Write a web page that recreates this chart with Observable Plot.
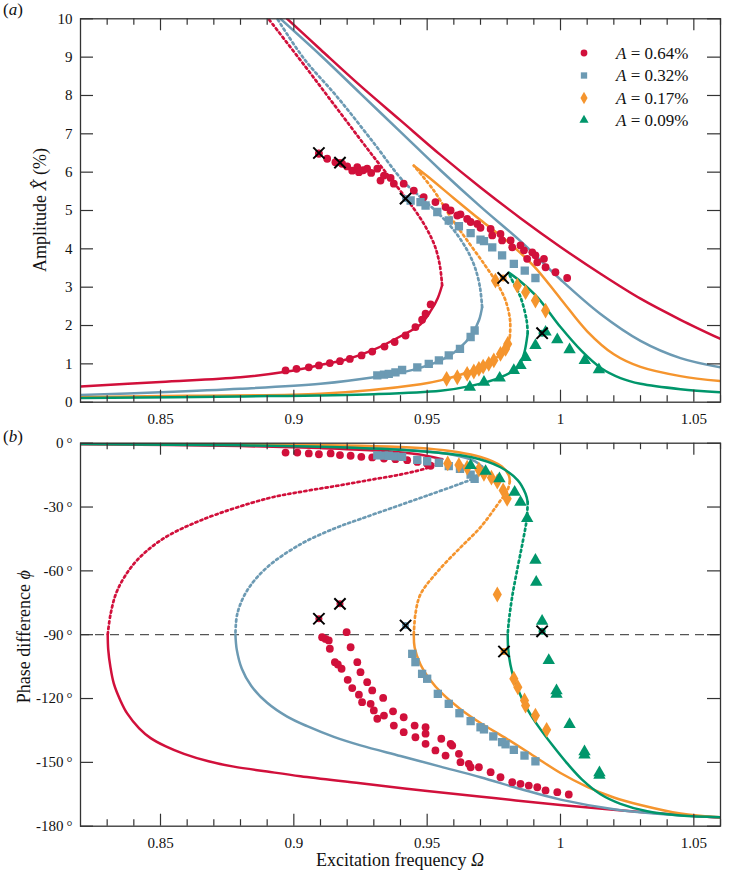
<!DOCTYPE html>
<html><head><meta charset="utf-8">
<script src="https://cdn.jsdelivr.net/npm/d3@7"></script>
<script src="https://cdn.jsdelivr.net/npm/@observablehq/plot@0.6"></script>
<style>
body{margin:0;background:#fff;}
#fig{position:relative;width:736px;height:872px;font-family:"Liberation Serif","Times New Roman",serif;}
#fig svg{position:absolute;left:0;}
#fig svg text, #fig svg tspan{font-family:"Liberation Serif","Times New Roman",serif !important;}
</style></head><body><div id="fig"></div>
<script>
// ---------- colours ----------
const colRed = "#d1103b", colBlue = "#6c9ab3", colOrange = "#f5952e", colGreen = "#00966b";
const frameCol = "#333333";

// ---------- ticks ----------
const xMajor = [0.85, 0.9, 0.95, 1, 1.05];
const xMinor = [0.83,0.84,0.86,0.87,0.88,0.89,0.91,0.92,0.93,0.94,0.96,0.97,0.98,0.99,1.01,1.02,1.03,1.04,1.06];
const ampTicks = [0,1,2,3,4,5,6,7,8,9,10];
const phaseTicks = [0,-30,-60,-90,-120,-150,-180];
const legendLabels = ["0.64%", "0.32%", "0.17%", "0.09%"];

// ---------- panel (a): theory curves [frequency, amplitude %] ----------
const redAmpLow = [[0.82,0.41],[0.85,0.53],[0.88,0.65],[0.8975,0.8],[0.91,0.97],[0.92,1.12],[0.93,1.37],[0.94,1.72],[0.9475,2.03],[0.9515,2.4],[0.954,2.72],[0.9556,3.05]];
const redAmpUnst = [[0.9556,3.05],[0.9548,3.55],[0.953,4.05],[0.95,4.5],[0.946,4.95],[0.9412,5.4],[0.9288,6.5],[0.9163,7.65],[0.9038,8.8],[0.8905,10]];
const redAmpUp = [[0.8975,10],[0.91,9.2],[0.925,8.25],[0.94,7.35],[0.955,6.45],[0.97,5.6],[0.985,4.8],[1.0,4.05],[1.015,3.35],[1.03,2.7],[1.045,2.15],[1.06,1.65]];

const blueAmpLow = [[0.82,0.19],[0.85,0.26],[0.88,0.35],[0.91,0.48],[0.93,0.65],[0.945,0.85],[0.955,1.09],[0.962,1.4],[0.967,1.8],[0.9695,2.15],[0.9706,2.48]];
const blueAmpUnst = [[0.9706,2.48],[0.9698,3.0],[0.968,3.5],[0.9655,3.9],[0.962,4.3],[0.958,4.65],[0.953,5.0],[0.9475,5.35],[0.9412,5.75],[0.929,6.85],[0.9163,7.96],[0.9038,8.96],[0.8938,10]];
const blueAmpUp = [[0.895,10],[0.91,9.05],[0.925,8.05],[0.94,7.05],[0.955,6.05],[0.97,5.1],[0.985,4.2],[1.0,3.2],[1.015,2.3],[1.03,1.6],[1.045,1.15],[1.06,0.91]];

const orangeAmpLow = [[0.82,0.13],[0.86,0.17],[0.91,0.22],[0.9475,0.47],[0.955,0.57],[0.966,0.8],[0.974,1.07],[0.979,1.35],[0.9806,1.6],[0.981,1.7]];
const orangeAmpUnst = [[0.981,1.7],[0.9811,2.13],[0.9794,2.65],[0.9763,3.09],[0.9713,3.61],[0.965,4.22],[0.9588,4.83],[0.9525,5.52],[0.945,6.17]];
const orangeAmpUp = [[0.945,6.17],[0.95,5.9],[0.96,5.32],[0.97,4.75],[0.98,4.2],[0.99,3.55],[1.0,2.7],[1.01,1.85],[1.02,1.25],[1.03,0.92],[1.045,0.68],[1.06,0.55]];

const greenAmpLow = [[0.82,0.11],[0.88,0.15],[0.93,0.21],[0.955,0.3],[0.966,0.42],[0.9775,0.65],[0.984,0.91],[0.9863,1.26],[0.9875,1.7],[0.9877,1.8]];
const greenAmpUnst = [[0.9877,1.8],[0.9873,2.13],[0.985,2.74],[0.9813,3.26],[0.9806,3.38]];
const greenAmpUp = [[0.9806,3.38],[0.985,3.15],[0.9913,2.74],[1.0,1.96],[1.008,1.33],[1.015,0.9],[1.0225,0.63],[1.03,0.48],[1.045,0.34],[1.06,0.26]];

// ---------- panel (a): measurements ----------
const redAmpPts = [[0.8969,0.83],[0.901,0.87],[0.9056,0.91],[0.9094,0.96],[0.9135,1.02],[0.9173,1.07],[0.921,1.13],[0.9254,1.22],[0.9294,1.32],[0.934,1.45],[0.9378,1.57],[0.9419,1.74],[0.9456,1.96],[0.9481,2.15],[0.9494,2.31],[0.9513,2.55],
 [0.9094,6.48],[0.9125,6.35],[0.9156,6.26],[0.9181,6.22],[0.92,6.15],[0.9219,6.04],[0.9238,6.13],[0.9244,6.0],[0.926,6.05],[0.9275,6.09],[0.929,5.98],[0.9313,6.09],[0.9325,5.78],[0.9338,5.91],[0.9363,5.85],[0.9375,5.7],[0.9412,5.70],[0.945,5.52],[0.9487,5.35],[0.9531,5.22],[0.9569,5.09],[0.9588,5.0],[0.9613,4.87],[0.9625,4.9],[0.965,4.78],[0.9663,4.70],[0.9688,4.65],[0.97,4.55],[0.9738,4.52],[0.9744,4.35],[0.9775,4.39],[0.9781,4.22],[0.9813,4.22],[0.9819,4.04],[0.985,4.09],[0.9863,3.96],[0.9875,3.74],[0.9894,3.91],[0.9906,3.83],[0.9913,3.65],[0.9938,3.74],[0.9944,3.52],[0.9981,3.39],[1.0025,3.24]];
const blueAmpPts = [[0.9313,0.70],[0.9338,0.72],[0.9356,0.74],[0.9381,0.78],[0.9406,0.84],[0.9463,0.91],[0.9506,1.0],[0.9544,1.09],[0.9581,1.22],[0.9623,1.39],[0.9663,1.70],[0.9678,1.87],
 [0.9438,5.26],[0.9475,5.22],[0.9494,5.13],[0.9538,4.96],[0.9581,4.74],[0.9619,4.59],[0.9663,4.41],[0.97,4.24],[0.9713,4.2],[0.9744,4.04],[0.9781,3.83],[0.9825,3.61],[0.9866,3.43],[0.9906,3.24]];
const orangeAmpPts = [[0.9573,0.61],[0.9613,0.65],[0.965,0.74],[0.9675,0.8],[0.9694,0.87],[0.971,0.93],[0.9731,1.0],[0.975,1.09],[0.9775,1.26],[0.9794,1.39],[0.9802,1.52],
 [0.9756,3.17],[0.9838,3.04],[0.9869,2.87],[0.9906,2.65],[0.9944,2.39]];
const greenAmpPts = [[0.966,0.39],[0.9713,0.52],[0.9772,0.63],[0.9825,0.83],[0.985,0.96],[0.9869,1.17],
 [0.9906,1.48],[0.9944,1.83],[0.9988,1.63],[1.0034,1.37],[1.0091,1.09],[1.0144,0.85]];
const crossAmp = [[0.9094,6.5,"red"],[0.9173,6.25,"red"],[0.9419,5.31,"blue"],[0.9785,3.24,"orange"],[0.9931,1.80,"green"]];

// ---------- panel (b): theory curves [frequency, phase deg] ----------
const redPhTop = [[0.82,-0.5],[0.88,-1.3],[0.91,-2.3],[0.93,-3.4],[0.945,-5],[0.9556,-7.5]];
const redPhUnst = [[0.9556,-7.5],[0.9513,-11],[0.9412,-14.4],[0.9288,-17.2],[0.9163,-20],[0.9038,-22.6],[0.89,-26],[0.865,-36.3],[0.85,-45.7],[0.84,-56.7],[0.8338,-69.2],[0.8313,-80.2],[0.8302,-90]];
const redPhBot = [[0.8302,-90],[0.8304,-97],[0.8312,-105],[0.8325,-113],[0.835,-121],[0.8375,-127],[0.842,-134],[0.8463,-138.6],[0.852,-142.5],[0.8588,-146],[0.868,-149.5],[0.8775,-152],[0.89,-154.3],[0.9025,-156.5],[0.925,-159.8],[0.95,-163.5],[0.975,-166.8],[1.0,-170],[1.03,-173.3],[1.06,-176]];

const bluePhTop = [[0.82,-0.3],[0.9,-1],[0.94,-2.8],[0.96,-5.5],[0.968,-8.5],[0.9706,-11]];
const bluePhUnst = [[0.9706,-11],[0.9695,-14],[0.967,-16.7],[0.9625,-19],[0.95,-24.6],[0.9375,-30.1],[0.925,-35.6],[0.915,-40.2],[0.9025,-47.5],[0.89,-58.3],[0.8825,-69.2],[0.8788,-80.2],[0.8781,-90]];
const bluePhBot = [[0.8781,-90],[0.8786,-97],[0.8805,-106],[0.884,-114],[0.89,-122],[0.8975,-128.5],[0.905,-133],[0.915,-138],[0.925,-142],[0.94,-147],[0.955,-152],[0.97,-157],[0.985,-162.5],[1.0,-167.5],[1.02,-172],[1.04,-174.5],[1.06,-175.8]];

const orangePhTop = [[0.82,-0.2],[0.9,-0.7],[0.95,-2.5],[0.97,-6.5],[0.978,-11],[0.9806,-15],[0.981,-18]];
const orangePhUnst = [[0.981,-18],[0.98,-22.5],[0.9775,-26.9],[0.97,-39.5],[0.9625,-49],[0.9538,-60.5],[0.9475,-71],[0.9456,-80.2],[0.945,-90]];
const orangePhBot = [[0.945,-90],[0.9453,-96],[0.9475,-104],[0.951,-111],[0.9555,-117.5],[0.9625,-125],[0.97,-131.5],[0.98,-139],[0.99,-147],[1.0,-155],[1.01,-161.5],[1.02,-166.5],[1.03,-170],[1.045,-174],[1.06,-175.8]];

const greenPhTop = [[0.82,-0.4],[0.88,-1],[0.92,-2],[0.9475,-3.8],[0.9663,-6.5],[0.9775,-11.3],[0.984,-17.5],[0.9869,-23.8],[0.9877,-27.7]];
const greenPhUnst = [[0.9877,-27.7],[0.9873,-36],[0.9859,-46],[0.984,-58],[0.9819,-72],[0.9806,-84],[0.9802,-90]];
const greenPhBot = [[0.9802,-90],[0.9804,-97],[0.9812,-104],[0.9825,-110.5],[0.9845,-117],[0.9865,-122.5],[0.989,-128],[0.9925,-134.5],[0.997,-142],[1.0025,-150.5],[1.008,-158],[1.015,-165],[1.0225,-169.5],[1.0325,-173],[1.045,-175],[1.06,-175.8]];

// ---------- panel (b): measurements ----------
const redPhPts = [[0.8969,-4.4],[0.9013,-4.4],[0.9056,-4.8],[0.9094,-5.2],[0.9138,-4.8],[0.9173,-5.6],[0.9213,-5.9],[0.9253,-6.4],[0.9294,-6.7],[0.9338,-7.2],[0.9381,-7.5],[0.9425,-8.0],[0.9463,-8.8],[0.95,-9.7],[0.9513,-10.6],
 [0.9106,-91.2],[0.9119,-92],[0.9131,-92.7],[0.9135,-96.6],[0.9154,-102.9],[0.9165,-104],[0.9179,-106],[0.9202,-111.2],[0.9219,-115.1],[0.9244,-118.2],[0.9256,-121.7],[0.9288,-122.5],[0.93,-125.6],[0.9313,-129.5],[0.9338,-128],[0.9375,-132.7],[0.9412,-135.8],[0.9456,-138.2],[0.9494,-141.3],[0.9531,-144.4],[0.9569,-146.8],[0.9594,-142.1],[0.9619,-146],[0.9656,-150.7],
 [0.9198,-88.8],[0.9213,-95.9],[0.9238,-102.9],[0.925,-107.6],[0.9275,-112.3],[0.9294,-116.2],[0.9335,-119.7],[0.9372,-126],[0.9412,-128.8],[0.9453,-132.7],[0.9494,-133.5],[0.9494,-136.5],[0.9553,-138.9],[0.9588,-141.3],[0.9625,-149.9],[0.9663,-152.3],[0.9694,-152.3],[0.9738,-154.6],[0.9775,-157],[0.9819,-159.3],[0.985,-160.1],[0.9881,-160.9],[0.9913,-161.7],[0.9944,-163.2],[0.9988,-164],[1.0031,-165.1]];
const bluePhPts = [[0.9313,-5.7],[0.9338,-5.8],[0.9356,-5.9],[0.938,-6.2],[0.9406,-6.4],[0.9463,-7.8],[0.95,-8.5],[0.9544,-9.2],[0.9581,-10.8],[0.9623,-12],[0.9663,-14.8],[0.9678,-16.7],
 [0.9444,-99],[0.9456,-102.9],[0.9481,-108.4],[0.95,-110.7],[0.954,-117.8],[0.9581,-122.5],[0.9621,-126.9],[0.9663,-130.6],[0.97,-133.5],[0.9713,-134.5],[0.9748,-137.8],[0.9781,-140.5],[0.9794,-141.5],[0.9825,-144.1],[0.9865,-146.8],[0.9906,-149.5]];
const orangePhPts = [[0.9577,-9.5],[0.9619,-10.3],[0.965,-11.5],[0.9694,-12.4],[0.9713,-14.4],[0.9741,-16.2],[0.9763,-18],[0.9785,-22.2],[0.98,-26.1],
 [0.9763,-71.1],
 [0.9825,-110.7],[0.984,-114.7],[0.9865,-120.9],[0.9869,-123.3],[0.9906,-128],[0.9948,-134.7]];
const greenPhPts = [[0.9663,-10.5],[0.9719,-13.2],[0.9771,-16.7],[0.9828,-23],[0.985,-27.7],[0.9875,-35.3],[0.9906,-55],[0.9909,-65.3],[0.9931,-83.6],
 [0.9956,-102.1],[0.9985,-116.3],[0.9985,-118],[1.0034,-132.2],[1.009,-145],[1.009,-146.5],[1.0146,-154.8],[1.0146,-156]];
const crossPh = [[0.9094,-82.5,"red"],[0.9173,-75.5,"red"],[0.9419,-85.7,"blue"],[0.9788,-97.9,"orange"],[0.9931,-88.4,"green"]];

// ---------- helpers ----------
const FONT = '"Liberation Serif","Times New Roman",serif';
const colorOf = {red: colRed, blue: colBlue, orange: colOrange, green: colGreen};
const W = 736, ML = 80, MR = 16;
function line(data, color, dotted) {
  return Plot.line(data, {x: d => d[0], y: d => d[1], stroke: color, strokeWidth: dotted ? 2.7 : 2.5,
    strokeDasharray: dotted ? "2.2,3.2" : null, curve: "catmull-rom", clip: true});
}
function pts(data, color, symbol, r) {
  return Plot.dot(data, {x: d => d[0], y: d => d[1], fill: color, symbol, r, clip: true});
}
function frameTicks(plotH, plotW, yTicks) {
  return [
    Plot.tickX(xMajor, {x: d => d, insetTop: plotH - 12, stroke: frameCol, strokeWidth: 1.2}),
    Plot.tickX(xMinor, {x: d => d, insetTop: plotH - 6.5, stroke: frameCol, strokeWidth: 1.2}),
    Plot.tickX(xMajor, {x: d => d, insetBottom: plotH - 12, stroke: frameCol, strokeWidth: 1.2}),
    Plot.tickX(xMinor, {x: d => d, insetBottom: plotH - 6.5, stroke: frameCol, strokeWidth: 1.2}),
    Plot.tickY(yTicks, {y: d => d, insetRight: plotW - 13, stroke: frameCol, strokeWidth: 1.2}),
    Plot.tickY(yTicks, {y: d => d, insetLeft: plotW - 13, stroke: frameCol, strokeWidth: 1.2}),
    Plot.frame({stroke: frameCol, strokeWidth: 1.3})
  ];
}
const styleObj = {fontFamily: FONT, fontSize: "15px", color: "#111", background: "transparent", overflow: "visible"};
function axes(yTicks, yFmt) {
  return [
    Plot.axisX({ticks: xMajor, tickSize: 0, tickPadding: 11, tickFormat: d => String(d), label: null, fontFamily: FONT, fontSize: 15, fill: "#111"}),
    Plot.axisY({ticks: yTicks, tickSize: 0, tickPadding: 8, tickFormat: yFmt, label: null, fontFamily: FONT, fontSize: 15, fill: "#111"})
  ];
}

// ---------- panel (a) ----------
const AH = 430, AMT = 18.3, AMB = 28.3;
const plotA = Plot.plot({
  width: W, height: AH, marginLeft: ML, marginRight: MR, marginTop: AMT, marginBottom: AMB,
  style: styleObj,
  x: {domain: [0.82, 1.06]},
  y: {domain: [0, 10]},
  marks: [
    line(redAmpLow, colRed), line(redAmpUnst, colRed, true), line(redAmpUp, colRed),
    line(blueAmpLow, colBlue), line(blueAmpUnst, colBlue, true), line(blueAmpUp, colBlue),
    line(orangeAmpLow, colOrange), line(orangeAmpUnst, colOrange, true), line(orangeAmpUp, colOrange),
    line(greenAmpLow, colGreen), line(greenAmpUnst, colGreen, true), line(greenAmpUp, colGreen),
    pts(redAmpPts, colRed, "circle", 3.9),
    pts(blueAmpPts, colBlue, "square", 4.7),
    pts(orangeAmpPts, colOrange, "diamond", 4.8),
    pts(greenAmpPts, colGreen, "triangle", 4.6),
    Plot.dot(crossAmp, {x: d => d[0], y: d => d[1], fill: d => colorOf[d[2]], r: 3.5}),
    Plot.dot(crossAmp, {x: d => d[0], y: d => d[1], symbol: "times", stroke: "#000", strokeWidth: 2, r: 5.2}),
    ...frameTicks(AH - AMT - AMB, W - ML - MR, ampTicks),
    ...axes(ampTicks, d => String(d))
  ]
});
plotA.style.top = "0px";

// ---------- panel (b) ----------
const BH = 442, BMT = 12.7, BMB = 46.3;
const plotB = Plot.plot({
  width: W, height: BH, marginLeft: ML, marginRight: MR, marginTop: BMT, marginBottom: BMB,
  style: styleObj,
  x: {domain: [0.82, 1.06]},
  y: {domain: [-180, 0]},
  marks: [
    Plot.ruleY([-90], {stroke: "#555", strokeWidth: 1.2, strokeDasharray: "9,6"}),
    line(redPhTop, colRed), line(redPhUnst, colRed, true), line(redPhBot, colRed),
    line(bluePhTop, colBlue), line(bluePhUnst, colBlue, true), line(bluePhBot, colBlue),
    line(orangePhTop, colOrange), line(orangePhUnst, colOrange, true), line(orangePhBot, colOrange),
    line(greenPhTop, colGreen), line(greenPhUnst, colGreen, true), line(greenPhBot, colGreen),
    pts(redPhPts, colRed, "circle", 3.9),
    pts(bluePhPts, colBlue, "square", 4.7),
    pts(orangePhPts, colOrange, "diamond", 4.8),
    pts(greenPhPts, colGreen, "triangle", 4.6),
    Plot.dot(crossPh, {x: d => d[0], y: d => d[1], fill: d => colorOf[d[2]], r: 3.5}),
    Plot.dot(crossPh, {x: d => d[0], y: d => d[1], symbol: "times", stroke: "#000", strokeWidth: 2, r: 5.2}),
    ...frameTicks(BH - BMT - BMB, W - ML - MR, phaseTicks),
    ...axes(phaseTicks, d => d + "\u2009°")
  ]
});
plotB.style.top = AH + "px";

const fig = document.getElementById("fig");
fig.appendChild(plotA);
fig.appendChild(plotB);

// ---------- labels, legend ----------
const sa = d3.select(plotA), sb = d3.select(plotB);
function txt(sel, x, y, size, anchor, parts, rotate) {
  const t = sel.append("text").attr("font-family", FONT).attr("font-size", size).attr("fill", "#111")
    .attr("text-anchor", anchor)
    .attr("transform", `translate(${x},${y})` + (rotate ? ` rotate(${rotate})` : ""));
  parts.forEach(p => { const s = t.append("tspan").text(p[0]); if (p[1]) s.attr("font-style", "italic"); });
  return t;
}
txt(sa, 3, 15, 17, "start", [["("],["a", true],[")"]]);
txt(sb, 3, 442 - AH, 17, "start", [["("],["b", true],[")"]]);
txt(sa, 46, 210, 18, "middle", [["Amplitude "],["X\u0302", true],[" (%)"]], -90);
txt(sb, 30, 636.7 - AH, 18, "middle", [["Phase difference "],["\u03D5", true]], -90);
txt(sb, 400, 866 - AH, 18, "middle", [["Excitation frequency "],["\u03A9", true]]);

// legend
const legSyms = [d3.symbolCircle, d3.symbolSquare, d3.symbolDiamond, d3.symbolTriangle];
const legCols = [colRed, colBlue, colOrange, colGreen];
const legY = [53, 75.5, 98, 120];
legendLabels.forEach((lab, i) => {
  sa.append("path").attr("d", d3.symbol(legSyms[i], [36, 40, 44, 36][i])())
    .attr("transform", `translate(584,${legY[i]})`).attr("fill", legCols[i]);
  txt(sa, 616, legY[i] + 5.5, 17, "start", [["A", true],[" = " + lab]]);
});
</script></body></html>
